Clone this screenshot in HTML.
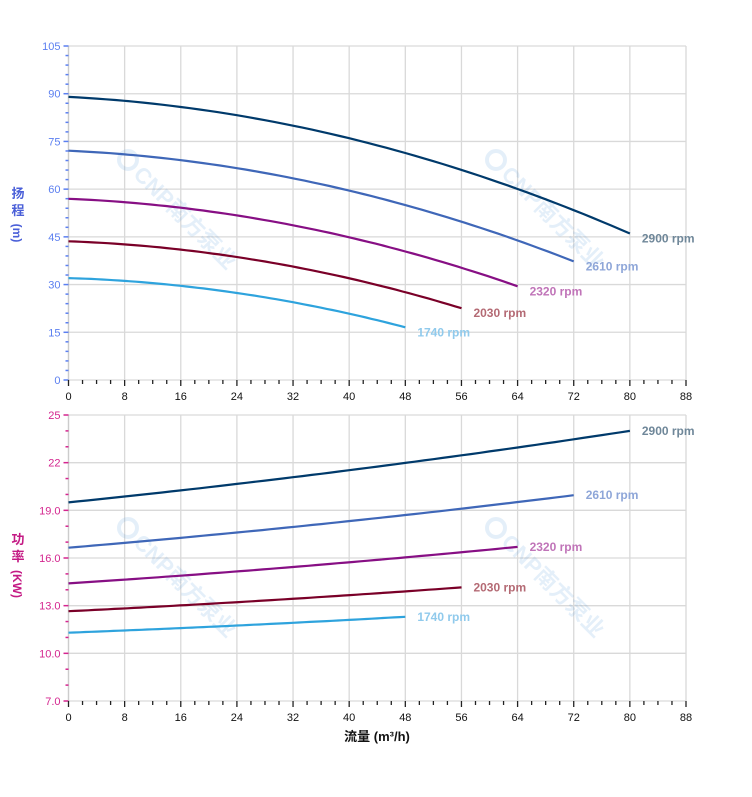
<!DOCTYPE html>
<html><head><meta charset="utf-8"><style>
html,body{margin:0;padding:0;background:#fff;width:752px;height:797px;overflow:hidden}
svg{display:block}
text{font-family:"Liberation Sans","Noto Sans CJK SC",sans-serif}
</style></head><body>
<svg id="s" width="752" height="797" xmlns="http://www.w3.org/2000/svg"></svg>
<script>
const s=document.getElementById('s');let h='';
const X0=68.5,X1=686,xs=q=>X0+q*(X1-X0)/88;
// top
const T0=46,T1=380,ty=v=>T1-v*(T1-T0)/105;
const B0=415,B1=701,by=v=>B1-(v-7)*(B1-B0)/18;
function grid(y0,y1,ys,vals){
 for(let i=0;i<=11;i++){const x=xs(i*8);h+=`<line x1="${x}" y1="${y0}" x2="${x}" y2="${y1}" stroke="#d9d9d9" stroke-width="1.3"/>`;}
 vals.forEach(v=>{const y=ys(v);h+=`<line x1="${X0}" y1="${y}" x2="${X1}" y2="${y}" stroke="#d9d9d9" stroke-width="1.3"/>`;});
}
function wm(x,y){h+=`<g transform="translate(${x},${y}) rotate(45)" opacity="0.13" fill="#3a8ad8"><circle cx="0" cy="0" r="9" fill="none" stroke="#3a8ad8" stroke-width="4"/><text x="14" y="8" font-size="22" font-weight="bold">CNP南方泵业</text></g>`;}
grid(T0,T1,ty,[0,15,30,45,60,75,90,105]);
grid(B0,B1,by,[7,10,13,16,19,22,25]);
wm(128,160);wm(496,160);wm(128,528);wm(496,528);
// axes
function axes(y0,y1,col,ys,maj,minStep,lo,hi,fmt){
 h+=`<line x1="${X0}" y1="${y0}" x2="${X0}" y2="${y1}" stroke="#ccc" stroke-width="1.3"/>`;
 for(let v=lo;v<=hi+1e-6;v+=minStep){const y=ys(v);const isM=Math.abs(((v-lo)/maj)-Math.round((v-lo)/maj))<1e-6;
  h+=`<line x1="${isM?X0-5:X0-3}" y1="${y}" x2="${X0}" y2="${y}" stroke="${col}" stroke-width="1.5"/>`;
  if(isM)h+=`<text x="${X0-8}" y="${y+4}" font-size="11" fill="${col}" text-anchor="end">${fmt(v)}</text>`;}
 for(let q=0;q<=88;q+=2){const x=xs(q);const m=q%8==0;h+=`<line x1="${x}" y1="${y1}" x2="${x}" y2="${y1+(m?6:4)}" stroke="#222" stroke-width="1.3"/>`;
  if(m)h+=`<text x="${x}" y="${y1+20}" font-size="11" fill="#111" text-anchor="middle">${q}</text>`;}
}
axes(T0,T1,'#5b7ff0',ty,15,3,0,105,v=>v);
axes(B0,B1,'#d4268f',by,3,1,7,25,v=>v==22||v==25?v:v.toFixed(1));
// titles
h+=`<text x="18" y="198" font-size="13" font-weight="bold" fill="#4a5fd8" text-anchor="middle">扬</text><text x="18" y="215" font-size="13" font-weight="bold" fill="#4a5fd8" text-anchor="middle">程</text><text transform="translate(13,233) rotate(90)" font-size="12" font-weight="bold" fill="#4a5fd8" text-anchor="middle">(m)</text>`;
h+=`<text x="18" y="544" font-size="13" font-weight="bold" fill="#c41a84" text-anchor="middle">功</text><text x="18" y="561" font-size="13" font-weight="bold" fill="#c41a84" text-anchor="middle">率</text><text transform="translate(13,584) rotate(90)" font-size="12" font-weight="bold" fill="#c41a84" text-anchor="middle">(KW)</text>`;
h+=`<text x="377" y="741" font-size="13" font-weight="bold" fill="#111" text-anchor="middle">流量 (m³/h)</text>`;
// series
const S=[
 {n:2900,r:1,lc:'#003a6b',tc:'#6f8799',p0:19.5,p1:24.0},
 {n:2610,r:.9,lc:'#3f67b8',tc:'#8ea6d8',p0:16.65,p1:19.95},
 {n:2320,r:.8,lc:'#870f84',tc:'#c074b8',p0:14.4,p1:16.7},
 {n:2030,r:.7,lc:'#7a0028',tc:'#b46a74',p0:12.65,p1:14.15},
 {n:1740,r:.6,lc:'#2ea3dd',tc:'#90caec',p0:11.3,p1:12.3}];
S.forEach(o=>{const qe=80*o.r;let a='',b='';
 for(let i=0;i<=60;i++){const q=qe*i/60,u=q/o.r;const H=(89-0.113*u-0.0053*u*u)*o.r*o.r;
  const t=i/60;const P=o.p0+(o.p1-o.p0)*(0.8*t+0.2*t*t);
  a+=(i?'L':'M')+xs(q).toFixed(1)+','+ty(H).toFixed(1);b+=(i?'L':'M')+xs(q).toFixed(1)+','+by(P).toFixed(1);}
 h+=`<path d="${a}" fill="none" stroke="${o.lc}" stroke-width="2.2"/><path d="${b}" fill="none" stroke="${o.lc}" stroke-width="2.2"/>`;
 const He=(89-0.113*80-0.0053*6400)*o.r*o.r;
 h+=`<text x="${xs(qe)+12}" y="${ty(He)+9}" font-size="12" font-weight="bold" fill="${o.tc}">${o.n} rpm</text>`;
 h+=`<text x="${xs(qe)+12}" y="${by(o.p1)+4}" font-size="12" font-weight="bold" fill="${o.tc}">${o.n} rpm</text>`;
});
s.innerHTML=h;
</script>
</body></html>
